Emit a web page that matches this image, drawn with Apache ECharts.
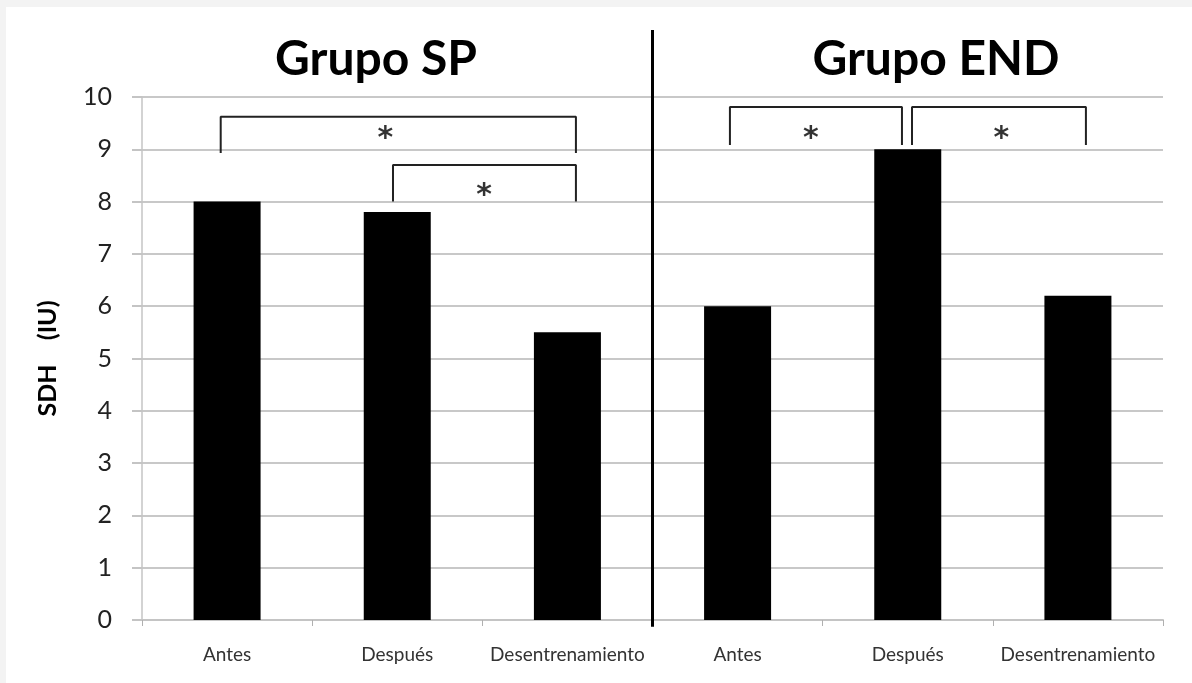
<!DOCTYPE html>
<html>
<head>
<meta charset="utf-8">
<script src="https://cdn.jsdelivr.net/npm/echarts@6/dist/echarts.min.js"></script>
<style>
html,body{margin:0;padding:0;background:#f3f3f3;}
#wrap{position:absolute;left:6px;top:7px;right:0;bottom:0;background:#fff;}
#c{position:absolute;left:-6px;top:-7px;width:1192px;height:683px;}
</style>
</head>
<body>
<div id="wrap"><div id="c"></div></div>
<script>
// Data
const categories = ['Antes', 'Después', 'Desentrenamiento', 'Antes', 'Después', 'Desentrenamiento'];
const sdhValues = [8.0, 7.8, 5.5, 6.0, 9.0, 6.2];
const yTicks = [0, 1, 2, 3, 4, 5, 6, 7, 8, 9, 10];
const groupTitles = ['Grupo SP', 'Grupo END'];
// significance brackets, in (category-position, SDH) units
const bracketSP1 = [[0.4625, 8.93], [0.4625, 9.62], [2.55, 9.62], [2.55, 8.93]];
const bracketSP2 = [[1.475, 8.0], [1.475, 8.70], [2.55, 8.70], [2.55, 8.0]];
const bracketEND1 = [[3.455, 9.08], [3.455, 9.81], [4.466, 9.81], [4.466, 9.08]];
const bracketEND2 = [[4.525, 9.08], [4.525, 9.81], [5.547, 9.81], [5.547, 9.08]];
const asterisks = [[1.43, 9.33], [2.01, 8.24], [3.93, 9.33], [5.05, 9.33]];
const divider = [[3, -0.13], [3, 11.28]];

const chart = echarts.init(document.getElementById('c'), null, {renderer: 'canvas'});
const font = 'Lato, "Open Sans", sans-serif';
const bracketSeries = [bracketSP1, bracketSP2, bracketEND1, bracketEND2].map(d => ({
  type: 'line', xAxisIndex: 1, data: d, symbol: 'none', clip: false,
  lineStyle: {color: '#222', width: 2}, z: 5, silent: true
}));
chart.setOption({
  backgroundColor: 'transparent',
  animation: false,
  title: [
    {text: groupTitles[0], left: 371, top: 31, textAlign: 'center',
     textStyle: {fontFamily: font, fontWeight: 'bold', fontSize: 48, color: '#000'}},
    {text: groupTitles[1], left: 931, top: 31, textAlign: 'center',
     textStyle: {fontFamily: font, fontWeight: 'bold', fontSize: 48, color: '#000'}}
  ],
  grid: {left: 142, right: 29, top: 97, bottom: 63, containLabel: false},
  xAxis: [
    {type: 'category', data: categories,
     axisLine: {lineStyle: {color: '#c4c4c4', width: 2}},
     axisTick: {show: true, length: 6, lineStyle: {color: '#b0b0b0'}},
     axisLabel: {fontFamily: font, fontSize: 19, color: '#333', margin: 25, interval: 0}},
    {type: 'value', min: 0, max: 6, show: false}
  ],
  yAxis: {
    type: 'value', min: 0, max: 10, interval: 1,
    name: 'SDH    (IU)', nameLocation: 'middle', nameGap: 82,
    nameTextStyle: {fontFamily: font, fontWeight: 'bold', fontSize: 25, color: '#000'},
    axisLine: {show: true, lineStyle: {color: '#c4c4c4', width: 1.5}},
    axisTick: {show: true, length: 10, inside: false, lineStyle: {color: '#c4c4c4', width: 2}},
    splitLine: {lineStyle: {color: '#c8c8c8', width: 2}},
    axisLabel: {fontFamily: font, fontSize: 25, color: '#222', margin: 30,
      formatter: v => yTicks.includes(v) ? String(v) : ''}
  },
  series: [
    {type: 'bar', data: sdhValues, barWidth: 67, itemStyle: {color: '#000'}, z: 3},
    {type: 'line', xAxisIndex: 1, data: divider, symbol: 'none', clip: false,
     lineStyle: {color: '#000', width: 3}, z: 6, silent: true},
    ...bracketSeries,
    {type: 'scatter', xAxisIndex: 1, data: asterisks, symbolSize: 0, clip: false,
     label: {show: true, position: 'inside', formatter: '*', offset: [0, 7],
       fontFamily: 'DejaVu Sans', fontWeight: 'bold', fontSize: 30, color: '#000'}, z: 7}
  ]
});
</script>
</body>
</html>
